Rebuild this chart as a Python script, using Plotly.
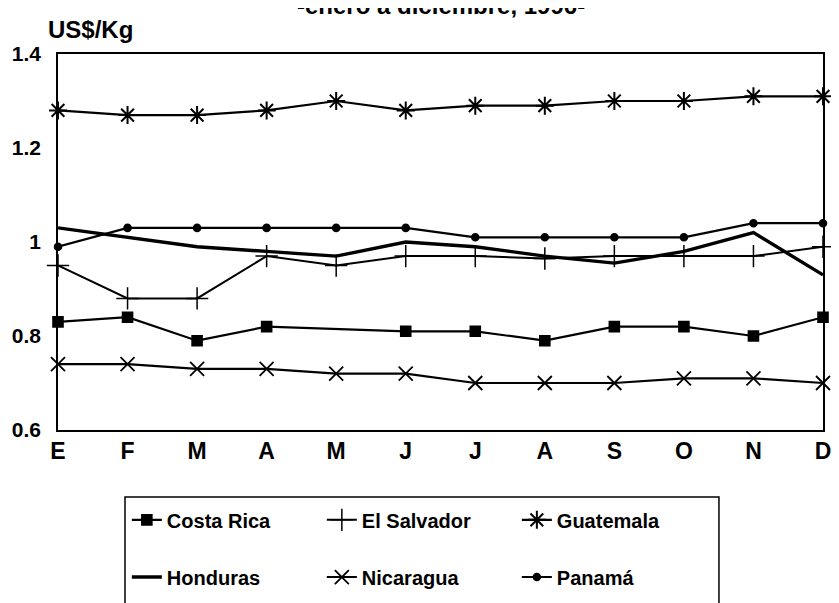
import plotly.graph_objects as go

months = ["E", "F", "M", "A", "M", "J", "J", "A", "S", "O", "N", "D"]

costa_rica = [0.83, 0.84, 0.79, 0.82, None, 0.81, 0.81, 0.79, 0.82, 0.82, 0.80, 0.84]
el_salvador = [0.95, 0.88, 0.88, 0.97, 0.95, 0.97, 0.97, 0.965, 0.97, 0.97, 0.97, 0.99]
guatemala = [1.28, 1.27, 1.27, 1.28, 1.30, 1.28, 1.29, 1.29, 1.30, 1.30, 1.31, 1.31]
honduras = [1.03, 1.01, 0.99, 0.98, 0.97, 1.00, 0.99, 0.97, 0.955, 0.98, 1.02, 0.93]
nicaragua = [0.74, 0.74, 0.73, 0.73, 0.72, 0.72, 0.70, 0.70, 0.70, 0.71, 0.71, 0.70]
panama = [0.99, 1.03, 1.03, 1.03, 1.03, 1.03, 1.01, 1.01, 1.01, 1.01, 1.04, 1.04]

FONT = "Liberation Sans, Arial, sans-serif"
x = list(range(len(months)))

fig = go.Figure()

def add_series(name, y, symbol, size, width=2.2, legend="legend", lw=1.6):
    marker = dict(color="black", size=size, symbol=symbol, line=dict(color="black", width=lw))
    fig.add_trace(go.Scatter(
        x=x, y=y, name=name, mode="lines+markers" if symbol else "lines",
        line=dict(color="black", width=width),
        marker=marker, connectgaps=True, cliponaxis=False, legend=legend,
    ))

add_series("Costa Rica", costa_rica, "square", 10)
add_series("El Salvador", el_salvador, "cross-thin-open", 16, width=2, lw=1.5)
add_series("Guatemala", guatemala, "asterisk-open", 15, lw=2)
add_series("Honduras", honduras, None, 0, width=3.4, legend="legend2")
add_series("Nicaragua", nicaragua, "x-thin-open", 14, lw=1.8, legend="legend2")
add_series("Panamá", panama, "circle", 7, legend="legend2")

leg = dict(orientation="h", xanchor="left", yanchor="middle", x=0.09,
           font=dict(family=FONT, size=20, color="black", weight="bold"),
           bgcolor="rgba(0,0,0,0)", entrywidth=150, itemsizing="trace")

fig.update_layout(
    width=839, height=603, autosize=False,
    margin=dict(l=50, r=24, t=46, b=181, autoexpand=False),
    paper_bgcolor="white", plot_bgcolor="white",
    font=dict(family=FONT, color="black"),
    showlegend=True,
    legend=dict(leg, y=-0.239),
    legend2=dict(leg, y=-0.391),
    xaxis=dict(range=[0, 11], tickvals=x, ticktext=months, showgrid=False, zeroline=False,
               showline=True, mirror=True, linecolor="black", linewidth=1.5,
               ticklabelstandoff=0, automargin=False,
               tickfont=dict(family=FONT, size=23, weight="bold")),
    yaxis=dict(range=[0.6, 1.4], tickvals=[0.6, 0.8, 1.0, 1.2, 1.4],
               ticktext=["0.6", "0.8", "1", "1.2", "1.4"], showgrid=False, zeroline=False,
               showline=True, mirror=True, linecolor="black", linewidth=1.5,
               ticklabelstandoff=11, automargin=False,
               tickfont=dict(family=FONT, size=21, weight="bold")),
    shapes=[dict(type="rect", xref="paper", yref="paper", x0=0.0876, x1=0.864,
                 y0=-0.178, y1=-0.5, line=dict(color="black", width=1.5))],
    annotations=[
        dict(text="-enero a diciembre, 1996-", x=0.5, y=1.13, xref="paper", yref="paper",
             xanchor="center", yanchor="middle", showarrow=False,
             font=dict(family=FONT, size=24, weight="bold")),
        dict(text="US$/Kg", x=-0.016, y=1.064, xref="paper", yref="paper",
             xanchor="left", yanchor="middle", showarrow=False,
             font=dict(family=FONT, size=24, weight="bold")),
    ],
)

fig.write_html("out.html")
